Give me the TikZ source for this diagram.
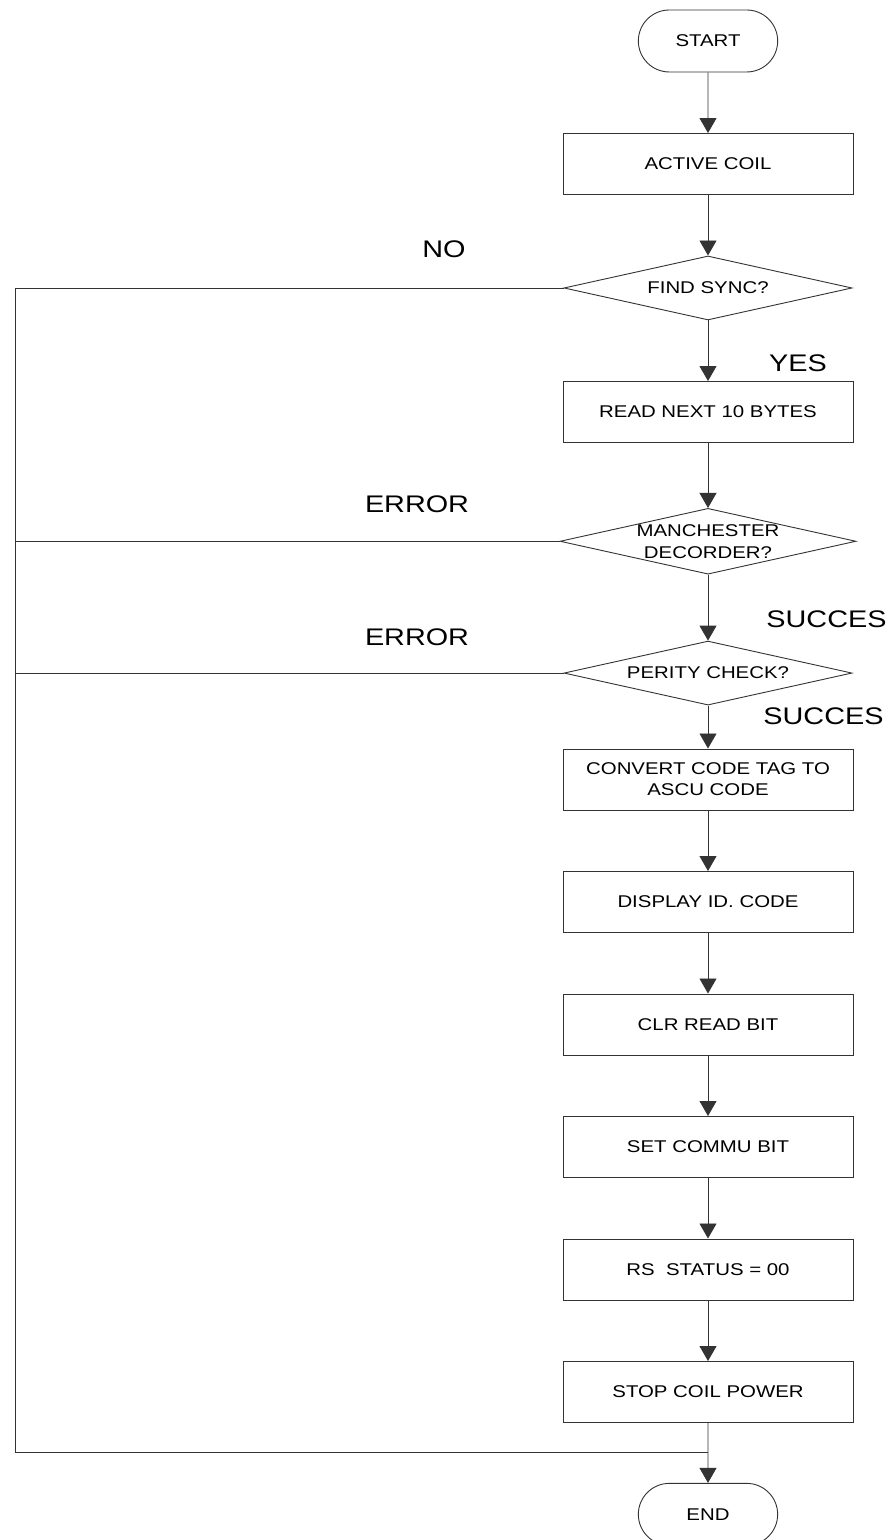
\documentclass[tikz,border=0pt]{standalone}
\usepackage{fontspec}
\setmainfont{Liberation Sans}[FakeStretch=1.2]
\usetikzlibrary{arrows.meta,shapes.geometric,shapes.misc,positioning}
\tikzstyle{every picture}+=[
  procnode/.style={fill=white,shape=rectangle,draw,minimum width=290pt,minimum height=61pt,align=center,font=\fontsize{17}{21}\selectfont},
  decnode/.style={fill=white,shape=diamond,draw,aspect=4.5,inner sep=0pt,minimum width=288pt,minimum height=64pt,align=center,font=\fontsize{17}{22}\selectfont},
  termnode/.style={fill=white,shape=rounded rectangle,draw,minimum width=146pt,minimum height=62pt,font=\fontsize{17}{21}\selectfont},
  lbl/.style={inner sep=0pt,font=\fontsize{24}{28}\selectfont},
  flow/.style={-{Triangle[width=17pt,length=15pt]}}
]
\def\nodesep{60.6pt}

\begin{document}
\begin{tikzpicture}[x=1pt,y=1pt,line width=0.9pt,draw=black!80]
      \useasboundingbox (0,0) rectangle (896,1540);
      \node[style=termnode] (start) at (708,1499) {START};
      \node[style=procnode,below = \nodesep of start] (coil) {ACTIVE COIL};
      \node[style=decnode,below = \nodesep of coil] (sync) {FIND SYNC?};
      \node[style=procnode,below = \nodesep of sync] (read) {READ NEXT 10 BYTES};
      \node[style=decnode,below = 65pt of read] (manch) {MANCHESTER\\DECORDER?};
      \node[style=decnode,below = 66pt of manch] (parity) {PERITY CHECK?};
      \node[style=procnode,below = 43pt of parity] (conv) {CONVERT CODE TAG TO\\ASCU CODE};
      \node[style=procnode,below = \nodesep of conv] (disp) {DISPLAY ID. CODE};
      \node[style=procnode,below = \nodesep of disp] (clr) {CLR READ BIT};
      \node[style=procnode,below = \nodesep of clr] (setb) {SET COMMU BIT};
      \node[style=procnode,below = \nodesep of setb] (rs) {RS~ STATUS = 00};
      \node[style=procnode,below = \nodesep of rs] (stop) {STOP COIL POWER};
      \node[style=termnode,below = 60pt of stop] (end) {END};
      \coordinate[below = 30pt of stop] (merge);
      \coordinate (rail) at (15,0);
      %
      \draw [flow] (start) -- (coil);
      \draw [flow] (coil) -- (sync);
      \draw [flow] (sync) -- (read);
      \draw [flow] (read) -- (manch);
      \draw [flow] (manch) -- (parity);
      \draw [flow] (parity) -- (conv);
      \draw [flow] (conv) -- (disp);
      \draw [flow] (disp) -- (clr);
      \draw [flow] (clr) -- (setb);
      \draw [flow] (setb) -- (rs);
      \draw [flow] (rs) -- (stop);
      \draw [flow] (stop) -- (end);
      %
      \draw (sync.west) -- (sync.west -| rail) -- (merge -| rail) -- (merge);
      \draw (manch.west) -- (manch.west -| rail);
      \draw (parity.west) -- (parity.west -| rail);
      %
      \node[style=lbl] (no) at (444,1291) {NO};
      \node[style=lbl] (yes) at (798,1177) {YES};
      \node[style=lbl] (err1) at (417,1036) {ERROR};
      \node[style=lbl] (err2) at (417,903) {ERROR};
      \node[style=lbl,anchor=west] (ok1) at (766,921) {SUCCES};
      \node[style=lbl,anchor=west] (ok2) at (763,824) {SUCCES};
      %
\end{tikzpicture}
\end{document}
